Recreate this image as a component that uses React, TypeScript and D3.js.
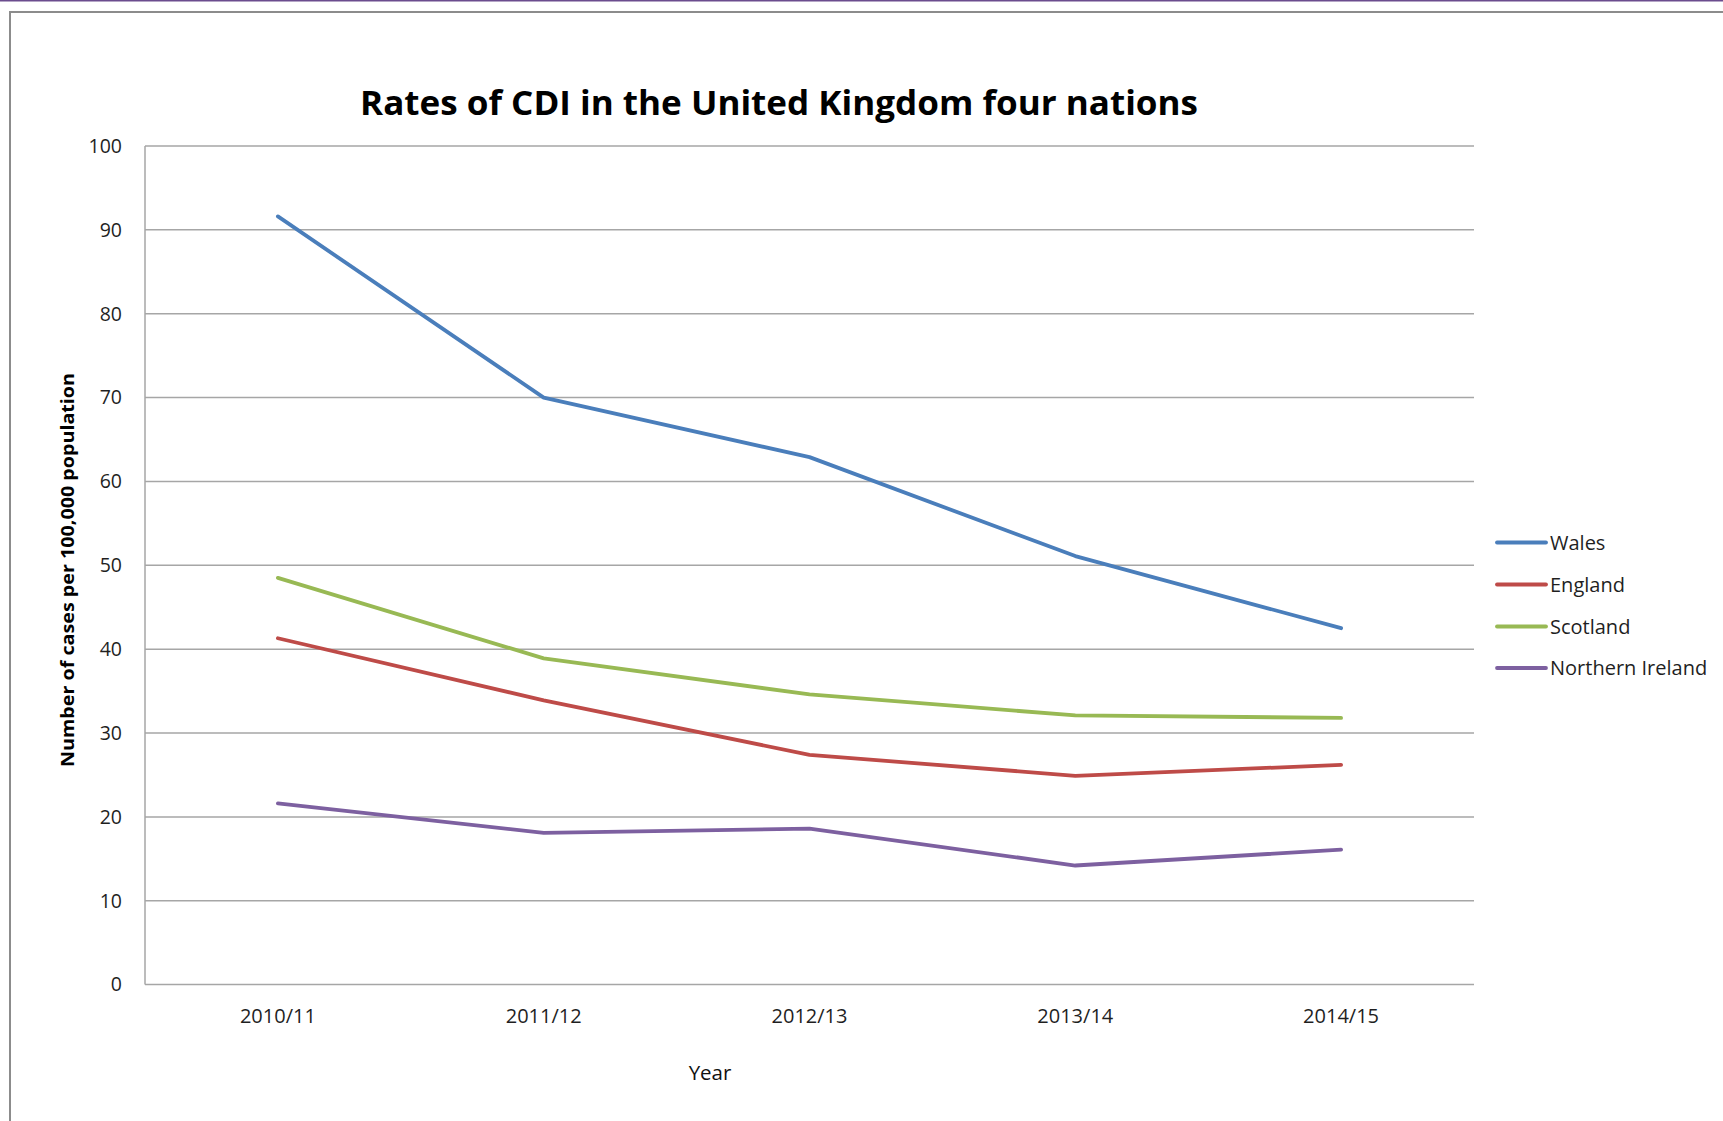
import React from "react";
import * as d3 from "d3";

// Reporting years on the category axis
const years: string[] = ["2010/11", "2011/12", "2012/13", "2013/14", "2014/15"];

// CDI cases per 100,000 population, one array per nation
const wales: number[] = [91.6, 70.0, 62.9, 51.1, 42.5];
const england: number[] = [41.3, 33.9, 27.4, 24.9, 26.2];
const scotland: number[] = [48.5, 38.9, 34.6, 32.1, 31.8];
const northernIreland: number[] = [21.6, 18.1, 18.6, 14.2, 16.1];

const seriesNames: string[] = ["Wales", "England", "Scotland", "Northern Ireland"];
const seriesColors: string[] = ["#4A7EBB", "#BE4B48", "#98B954", "#7D60A0"];
const yTicks: number[] = [0, 10, 20, 30, 40, 50, 60, 70, 80, 90, 100];

const W = 1723;
const H = 1121;
const plot = { left: 145, right: 1474, top: 146, bottom: 984.6 };
const FONT = "'Open Sans', 'Liberation Sans', sans-serif";

export default function App() {
  const series = [wales, england, scotland, northernIreland];

  const x = d3
    .scalePoint<string>()
    .domain(years)
    .range([plot.left, plot.right])
    .padding(0.5);
  const y = d3.scaleLinear().domain([0, 100]).range([plot.bottom, plot.top]);

  const line = d3
    .line<number>()
    .x((_, i) => x(years[i]) as number)
    .y((d) => y(d));

  const legendX = 1497;
  const legendRows = [542.5, 584.5, 626.5, 668];

  return (
    <svg
      width={W}
      height={H}
      viewBox={`0 0 ${W} ${H}`}
      style={{ position: "absolute", left: 0, top: 0, background: "#fff" }}
    >
      <rect x={0} y={0} width={W} height={H} fill="#ffffff" />
      {/* thin purple rule along the top edge */}
      <rect x={0} y={0} width={W} height={1.5} fill="#6B4C8E" />
      {/* chart frame */}
      <rect
        x={10}
        y={12}
        width={W + 40}
        height={H + 40}
        fill="none"
        stroke="#8C8C8C"
        strokeWidth={2}
      />

      {/* title */}
      <text
        x={779}
        y={115}
        textAnchor="middle"
        fontFamily={FONT}
        fontWeight={700}
        fontSize={34}
        textLength={838}
        lengthAdjust="spacingAndGlyphs"
        fill="#000"
      >
        Rates of CDI in the United Kingdom four nations
      </text>

      {/* horizontal gridlines */}
      {yTicks.map((t) => (
        <line
          key={`g${t}`}
          x1={plot.left}
          x2={plot.right}
          y1={y(t)}
          y2={y(t)}
          stroke="#A6A6A6"
          strokeWidth={1.5}
        />
      ))}
      {/* vertical axis line */}
      <line
        x1={plot.left}
        x2={plot.left}
        y1={plot.top}
        y2={plot.bottom}
        stroke="#A6A6A6"
        strokeWidth={1.5}
      />

      {/* y tick labels */}
      {yTicks.map((t) => (
        <text
          key={`yl${t}`}
          x={122}
          y={y(t)}
          dy="0.35em"
          textAnchor="end"
          fontFamily={FONT}
          fontSize={19.5}
          fill="#1f1f1f"
        >
          {t}
        </text>
      ))}

      {/* x tick labels */}
      {years.map((yr) => (
        <text
          key={yr}
          x={x(yr)}
          y={1023}
          textAnchor="middle"
          fontFamily={FONT}
          fontSize={20}
          fill="#1f1f1f"
        >
          {yr}
        </text>
      ))}

      {/* axis titles */}
      <text
        x={710}
        y={1080}
        textAnchor="middle"
        fontFamily={FONT}
        fontSize={20.5}
        fill="#111"
      >
        Year
      </text>
      <text
        transform={`translate(74, 570) rotate(-90)`}
        textAnchor="middle"
        fontFamily={FONT}
        fontWeight={700}
        fontSize={17.5}
        textLength={394}
        lengthAdjust="spacingAndGlyphs"
        fill="#000"
      >
        Number of cases per 100,000 population
      </text>

      {/* data lines */}
      {series.map((s, i) => (
        <path
          key={seriesNames[i]}
          d={line(s) ?? ""}
          fill="none"
          stroke={seriesColors[i]}
          strokeWidth={3.8}
          strokeLinejoin="round"
          strokeLinecap="round"
        />
      ))}

      {/* legend */}
      {seriesNames.map((name, i) => (
        <g key={`lg${name}`}>
          <line
            x1={legendX}
            x2={legendX + 49}
            y1={legendRows[i]}
            y2={legendRows[i]}
            stroke={seriesColors[i]}
            strokeWidth={3.8}
            strokeLinecap="round"
          />
          <text
            x={1550}
            y={legendRows[i]}
            dy="0.35em"
            fontFamily={FONT}
            fontSize={20}
            fill="#1f1f1f"
          >
            {name}
          </text>
        </g>
      ))}
    </svg>
  );
}
